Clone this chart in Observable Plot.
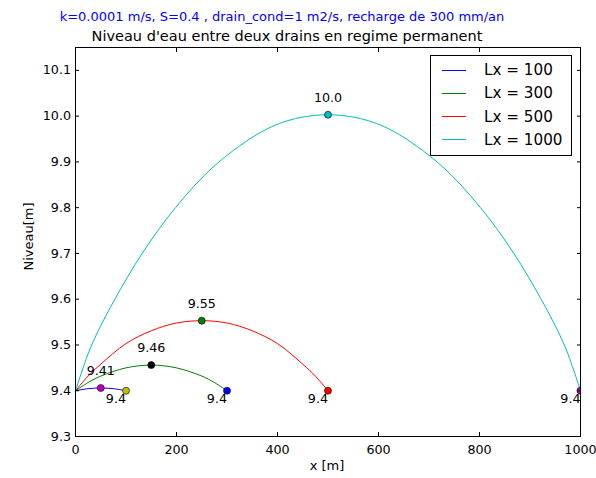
<!DOCTYPE html>
<html><head><meta charset="utf-8">
<script src="https://cdn.jsdelivr.net/npm/d3@7"></script>
<script src="https://cdn.jsdelivr.net/npm/@observablehq/plot@0.6"></script>
<style>
body{margin:0;background:#fff;font-family:"DejaVu Sans",sans-serif;}
#wrap{position:relative;width:596px;height:478px;overflow:hidden;}
#chart{position:absolute;left:0;top:0;}
.t{position:absolute;white-space:nowrap;text-align:center;width:600px;}
#sup{left:-18px;top:9.7px;color:#0000ff;font-size:13px;line-height:13px;}
#title{left:-13px;top:28.5px;color:#000;font-size:14.5px;line-height:14.5px;}
#xlab{left:27px;top:459px;font-size:13px;line-height:13px;}
#ylab{left:-72.5px;top:230px;font-size:13px;line-height:13px;width:200px;transform:rotate(-90deg);}
#legend{position:absolute;left:430px;top:55px;width:142px;height:101px;box-sizing:border-box;border:1px solid #000;background:#fff;}
.row{position:absolute;left:0;height:20px;width:140px;}
.sw{position:absolute;left:11px;top:9.5px;width:24px;height:0;border-top:1px solid;}
.lt{position:absolute;left:53px;top:1px;font-size:15.2px;line-height:18px;}
</style></head><body>
<div id="wrap">
  <div id="chart"></div>
  <div class="t" id="sup">k=0.0001 m/s, S=0.4 , drain_cond=1 m2/s, recharge de 300 mm/an</div>
  <div class="t" id="title">Niveau d'eau entre deux drains en regime permanent</div>
  <div class="t" id="xlab">x [m]</div>
  <div class="t" id="ylab">Niveau[m]</div>
  <div id="legend"></div>
</div>
<script>
// Series
const lxValues = [100, 300, 500, 1000];
const lineColors = ["#0000ff", "#008000", "#ff0000", "#00bfbf"];
const legendLabels = ["Lx = 100", "Lx = 300", "Lx = 500", "Lx = 1000"];

const x100 = [0, 25, 50, 75, 100];
const h100 = [9.400, 9.4045, 9.406, 9.4045, 9.400];
const x300 = [0, 25, 50, 100, 150, 200, 250, 275, 300];
const h300 = [9.400, 9.418, 9.432, 9.450, 9.456, 9.450, 9.432, 9.418, 9.400];
const x500 = [0, 25, 50, 100, 150, 200, 250, 300, 350, 400, 450, 475, 500];
const h500 = [9.400, 9.432, 9.458, 9.503, 9.531, 9.548, 9.553, 9.548, 9.531, 9.503, 9.458, 9.432, 9.400];
const x1000 = [0, 32, 78, 132, 198, 284, 397, 500, 603, 716, 802, 868, 922, 968, 1000];
const h1000 = [9.400, 9.500, 9.600, 9.700, 9.800, 9.900, 9.981, 10.003, 9.981, 9.900, 9.800, 9.700, 9.600, 9.500, 9.400];

// Annotated points
const peakX = [50, 150, 250, 500];
const peakH = [9.406, 9.456, 9.553, 10.003];
const peakLabels = ["9.41", "9.46", "9.55", "10.0"];
const peakColors = ["#bf00bf", "#000000", "#008000", "#00bfbf"];
const endX = [100, 300, 500, 1000];
const endH = [9.4, 9.4, 9.4, 9.4];
const endLabels = ["9.4", "9.4", "9.4", "9.4"];
const endColors = ["#bfbf00", "#0000ff", "#ff0000", "#bf00bf"];

// Axis ticks
const xTicks = [0, 200, 400, 600, 800, 1000];
const yTicks = [9.3, 9.4, 9.5, 9.6, 9.7, 9.8, 9.9, 10.0, 10.1];

const seriesX = [x100, x300, x500, x1000];
const seriesH = [h100, h300, h500, h1000];
const curveRows = [];
lxValues.forEach((lx, i) => seriesX[i].forEach((x, j) => curveRows.push({lx, x, h: seriesH[i][j], color: lineColors[i]})));
const peakRows = peakX.map((x, i) => ({x, h: peakH[i], label: peakLabels[i], color: peakColors[i]}));
const endRows = endX.map((x, i) => ({x, h: endH[i], label: endLabels[i], color: endColors[i]}));

const chart = Plot.plot({
  width: 596, height: 478,
  marginTop: 47, marginBottom: 42, marginLeft: 75, marginRight: 16,
  style: {fontFamily: "DejaVu Sans", fontSize: "12.7px", color: "black", background: "transparent", overflow: "visible"},
  x: {domain: [0, 1000]},
  y: {domain: [9.3, 10.15]},
  color: {type: "identity"},
  marks: [
    Plot.line(curveRows, {x: "x", y: "h", z: "lx", stroke: "color", strokeWidth: 1, curve: "catmull-rom"}),
    Plot.dot(peakRows, {x: "x", y: "h", fill: "color", stroke: "black", strokeWidth: 0.6, r: 3.5, clip: true}),
    Plot.dot(endRows, {x: "x", y: "h", fill: "color", stroke: "black", strokeWidth: 0.6, r: 3.5, clip: true}),
    Plot.text(peakRows, {x: "x", y: "h", text: "label", dy: -17, fill: "black"}),
    Plot.text(endRows, {x: "x", y: "h", text: "label", dy: 8, textAnchor: "end", fill: "black"}),
    Plot.axisX({ticks: xTicks, tickSize: -4, tickPadding: 12, tickFormat: d3.format("d"), label: null}),
    Plot.axisX({anchor: "top", ticks: xTicks, tickSize: -4, tickFormat: () => "", label: null}),
    Plot.axisY({ticks: yTicks, tickSize: -4, tickPadding: 8.5, tickFormat: d3.format(".1f"), label: null}),
    Plot.axisY({anchor: "right", ticks: yTicks, tickSize: -4, tickFormat: () => "", label: null}),
    Plot.frame({stroke: "black"})
  ]
});
document.getElementById("chart").appendChild(chart);

const legend = document.getElementById("legend");
const rowTops = [4, 27.3, 50.6, 73.9];
legendLabels.forEach((lab, i) => {
  const r = document.createElement("div");
  r.className = "row";
  r.style.top = rowTops[i] + "px";
  r.innerHTML = `<div class="sw" style="border-color:${lineColors[i]}"></div><div class="lt">${lab}</div>`;
  legend.appendChild(r);
});
</script>
</body></html>
